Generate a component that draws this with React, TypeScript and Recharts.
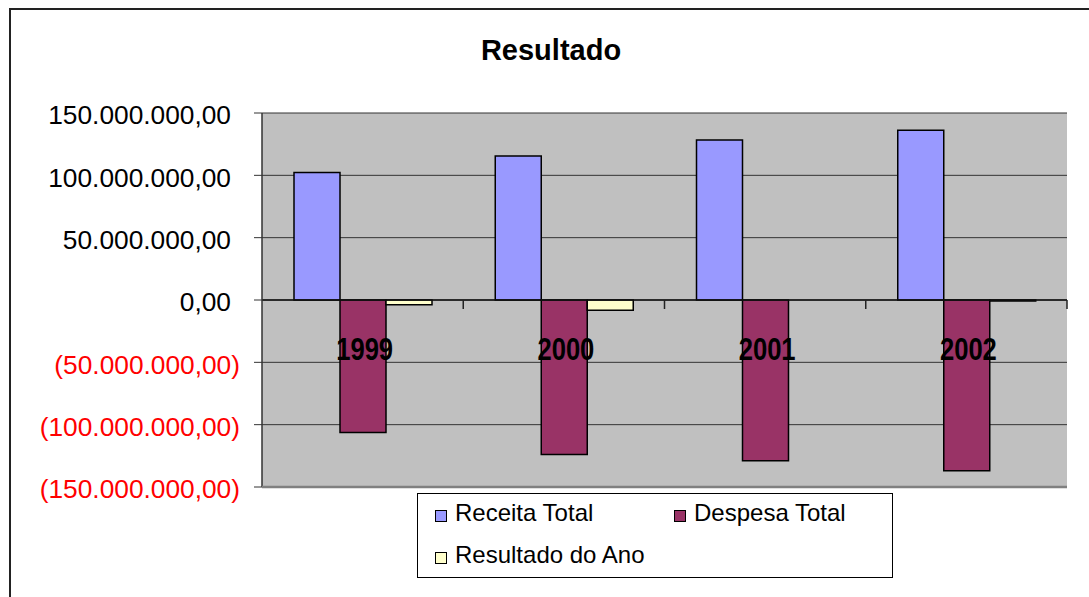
import {
  Bar,
  BarChart,
  CartesianGrid,
  Legend,
  ReferenceLine,
  XAxis,
  YAxis,
} from "recharts";

const YEARS = ["1999", "2000", "2001", "2002"];
const RECEITA = [102.2e6, 115.6e6, 128.4e6, 136.2e6];
const DESPESA = [-106.2e6, -123.9e6, -129.0e6, -137.0e6];
const RESULTADO = [-3.9e6, -8.3e6, 0, -0.8e6];
const Y_TICKS = [-150e6, -100e6, -50e6, 0, 50e6, 100e6, 150e6];

const SERIES = [
  { key: "receita", name: "Receita Total", color: "#9999FF" },
  { key: "despesa", name: "Despesa Total", color: "#993366" },
  { key: "resultado", name: "Resultado do Ano", color: "#FFFFCC" },
];

const W = 1089;
const H = 597;
const PLOT_TOP = 113;
const PLOT_BOTTOM = 487;
const PLOT_LEFT = 262;
const PLOT_RIGHT = 1067;
const ZERO_Y = (PLOT_TOP + PLOT_BOTTOM) / 2;
const BAND = (PLOT_RIGHT - PLOT_LEFT) / YEARS.length;
const FONT = "Arial, 'Liberation Sans', sans-serif";

const data = YEARS.map((y, i) => ({
  year: y,
  receita: RECEITA[i],
  despesa: DESPESA[i],
  resultado: RESULTADO[i],
}));

// 150000000 -> "150.000.000,00", negativos entre parênteses
function fmt(v: number) {
  const int = Math.round(Math.abs(v)).toString();
  const grouped = int.replace(/\B(?=(\d{3})+(?!\d))/g, ".");
  const s = `${grouped},00`;
  return v < 0 ? `(${s})` : s;
}

function YTick({ x, y, payload }: any) {
  const v = payload.value as number;
  const neg = v < 0;
  return (
    <text
      x={neg ? x : x - 9}
      y={y}
      dy="0.43em"
      textAnchor="end"
      fontFamily={FONT}
      fontSize={26.3}
      fill={neg ? "#FF0000" : "#000"}
    >
      {fmt(v)}
    </text>
  );
}

function XTick({ x, payload }: any) {
  return (
    <g>
      <line
        x1={x + BAND / 2}
        x2={x + BAND / 2}
        y1={ZERO_Y}
        y2={ZERO_Y + 9}
        stroke="#222"
        strokeWidth={1.5}
      />
      <text
        transform={`translate(${x + 2},${ZERO_Y + 60}) scale(1,1.25)`}
        textAnchor="middle"
        fontFamily={FONT}
        fontWeight="bold"
        fontSize={25.6}
        fill="#000"
      >
        {payload.value}
      </text>
    </g>
  );
}

function LegendBox({ payload }: any) {
  const pos = [
    { left: 17, top: 19 },
    { left: 256, top: 19 },
    { left: 17, top: 61 },
  ];
  const items = SERIES.map((s) => {
    const p = (payload ?? []).find((q: any) => q.value === s.name);
    return { name: s.name, color: p?.color ?? s.color };
  });
  return (
    <div
      style={{
        position: "relative",
        width: 476,
        height: 85,
        border: "1px solid #000",
        boxSizing: "border-box",
        background: "#fff",
        fontFamily: FONT,
        fontSize: 24,
      }}
    >
      {items.map((p, i) => (
        <div
          key={p.name}
          style={{
            position: "absolute",
            left: pos[i].left,
            top: pos[i].top - 14,
            display: "flex",
            alignItems: "center",
            whiteSpace: "nowrap",
            lineHeight: "28px",
          }}
        >
          <span
            style={{
              display: "inline-block",
              width: 10,
              height: 10,
              marginTop: 5,
              background: p.color,
              border: "1px solid #000",
              marginRight: 8,
            }}
          />
          <span>{p.name}</span>
        </div>
      ))}
    </div>
  );
}

export default function App() {
  return (
    <div
      style={{
        position: "absolute",
        left: 0,
        top: 0,
        width: W,
        height: H,
        overflow: "hidden",
        background: "#fff",
        fontFamily: FONT,
      }}
    >
      <div
        style={{
          position: "absolute",
          left: 9,
          top: 8,
          width: 1200,
          height: 1200,
          border: "2px solid #222",
        }}
      />
      <div
        style={{
          position: "absolute",
          left: 451,
          top: 36,
          width: 200,
          textAlign: "center",
          fontSize: 29,
          fontWeight: "bold",
          lineHeight: 1,
        }}
      >
        Resultado
      </div>
      <div style={{ position: "absolute", left: 0, top: 0 }}>
        <BarChart
          width={W}
          height={H}
          data={data}
          margin={{ top: PLOT_TOP, right: W - PLOT_RIGHT, bottom: H - PLOT_BOTTOM - 1, left: 10 }}
          barCategoryGap={32}
          barGap={0}
        >
          <CartesianGrid vertical={false} stroke="#333" fill="#C0C0C0" />
          <YAxis
            width={PLOT_LEFT - 10}
            domain={[-150e6, 150e6]}
            ticks={Y_TICKS}
            interval={0}
            tick={<YTick />}
            tickSize={8}
            tickMargin={14}
            tickLine={{ stroke: "#333" }}
            axisLine={{ stroke: "#333", strokeWidth: 1.5 }}
          />
          <YAxis
            yAxisId="r"
            orientation="right"
            width={0}
            domain={[-150e6, 150e6]}
            tick={false}
            tickLine={false}
            axisLine={{ stroke: "#808080", strokeWidth: 2 }}
          />
          {SERIES.map((s) => (
            <Bar
              key={s.key}
              dataKey={s.key}
              name={s.name}
              fill={s.color}
              stroke="#000"
              strokeWidth={1.5}
              isAnimationActive={false}
            />
          ))}
          <ReferenceLine y={0} stroke="#111" strokeWidth={1.5} />
          <XAxis
            dataKey="year"
            height={1}
            tickLine={false}
            axisLine={{ stroke: "#808080", strokeWidth: 2.5 }}
            tick={<XTick />}
            interval={0}
          />
          <Legend
            verticalAlign="middle"
            align="center"
            layout="horizontal"
            content={<LegendBox />}
            wrapperStyle={{ left: 417, top: 493, width: 476, height: 85 }}
          />
        </BarChart>
      </div>
    </div>
  );
}
